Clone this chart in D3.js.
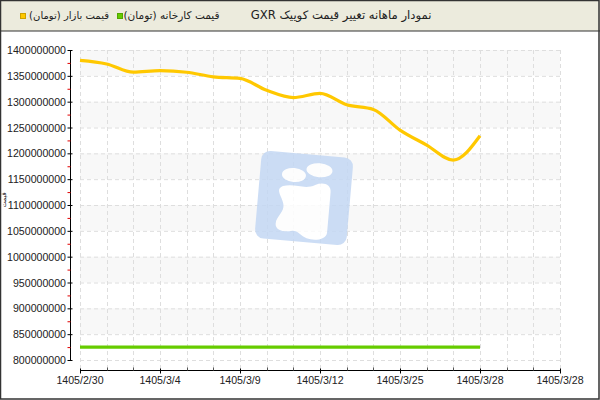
<!DOCTYPE html>
<html><head><meta charset="utf-8">
<script src="https://cdn.jsdelivr.net/npm/d3@7"></script>
<style>
html,body{margin:0;padding:0;background:#fff;}
svg{display:block;}
text{font-family:"Liberation Sans",Arial,sans-serif;}
.fa{font-family:"DejaVu Sans",sans-serif;}
</style></head><body>
<script>
const title = "نمودار ماهانه تغییر قیمت کوییک GXR";
const seriesNames = ["قیمت بازار (تومان)", "قیمت کارخانه (تومان)"];
const yAxisTitle = "قیمت";
const xTickLabels = ["1405/2/30","1405/3/4","1405/3/9","1405/3/12","1405/3/25","1405/3/28","1405/3/28"];
const marketPrice = [1380e6,1373e6,1357e6,1360e6,1357e6,1348e6,1345e6,1322e6,1308e6,1316e6,1294e6,1285e6,1245e6,1216e6,1187e6,1234e6];
const factoryPrice = [825e6,825e6,825e6,825e6,825e6,825e6,825e6,825e6,825e6,825e6,825e6,825e6,825e6,825e6,825e6,825e6];
const colors = ["#ffc800","#66cc00"];

const W=600,H=400;
const svg=d3.select("body").append("svg").attr("width",W).attr("height",H);
svg.append("rect").attr("x",0).attr("y",0).attr("width",W).attr("height",H).attr("fill","#fff");

// header
svg.append("rect").attr("x",0).attr("y",0).attr("width",W).attr("height",31).attr("fill","#ecebdd");
svg.append("line").attr("x1",0).attr("x2",W).attr("y1",31).attr("y2",31).attr("stroke","#333").attr("stroke-width",1);

const x=d3.scaleLinear().domain([0,18]).range([80,560]);
const y=d3.scaleLinear().domain([800e6,1400e6]).range([360,50]);

// bands
const majorY=d3.range(800e6,1400e6+1,50e6);
for(let v=1400e6; v>800e6; v-=100e6){
  svg.append("rect").attr("x",x(0)).attr("width",x(18)-x(0)).attr("y",y(v)).attr("height",y(v-50e6)-y(v)).attr("fill","#f8f8f8");
}
// grid
svg.append("g").selectAll("line").data(majorY).join("line")
 .attr("x1",x(0)).attr("x2",x(18)).attr("y1",d=>y(d)+0.5).attr("y2",d=>y(d)+0.5)
 .attr("stroke","#dedede").attr("stroke-dasharray","4,3");
svg.append("g").selectAll("line").data(d3.range(0,19)).join("line")
 .attr("x1",d=>Math.round(x(d))+0.5).attr("x2",d=>Math.round(x(d))+0.5).attr("y1",y(1400e6)).attr("y2",370)
 .attr("stroke","#dedede").attr("stroke-dasharray","4,3");

// watermark
const wm=svg.append("g").attr("transform","translate(304,198) rotate(5)").attr("opacity",0.85);
wm.append("rect").attr("x",-46).attr("y",-44).attr("width",92).attr("height",88).attr("rx",9).attr("fill","#c4d8f4");
wm.append("ellipse").attr("cx",-12).attr("cy",-22).attr("rx",12).attr("ry",7).attr("fill","#fff");
wm.append("ellipse").attr("cx",13).attr("cy",-29).attr("rx",13).attr("ry",7).attr("fill","#fff");
wm.append("path").attr("d","M-22,-10 C-10,-14 0,-8 10,-14 C18,-18 26,-16 26,-8 L26,32 C26,40 14,42 6,40 C0,38 -4,32 -10,34 C-18,36 -26,34 -26,28 C-26,20 -18,16 -20,8 C-22,0 -30,-6 -22,-10 Z").attr("fill","#fff");

// lines
const line=d3.line().x((d,i)=>x(i)).y(d=>y(d)).curve(d3.curveMonotoneX);
svg.append("path").datum(factoryPrice).attr("d",line).attr("fill","none").attr("stroke",colors[1]).attr("stroke-width",3.2);
svg.append("path").datum(marketPrice).attr("d",line).attr("fill","none").attr("stroke",colors[0]).attr("stroke-width",3.2).attr("stroke-linejoin","round");

// y axis
const ya=svg.append("g").attr("transform","translate(70.5,0)");
ya.append("line").attr("x1",0).attr("x2",0).attr("y1",y(1400e6)).attr("y2",y(800e6)).attr("stroke","#000");
ya.selectAll("line.mn").data(d3.range(825e6,1400e6,50e6)).join("line").attr("class","mn")
 .attr("x1",-3).attr("x2",0).attr("y1",d=>y(d)+0.5).attr("y2",d=>y(d)+0.5).attr("stroke","#e00000");
ya.selectAll("line.mj").data(majorY).join("line").attr("class","mj")
 .attr("x1",-3).attr("x2",2).attr("y1",d=>y(d)+0.5).attr("y2",d=>y(d)+0.5).attr("stroke","#000");
ya.selectAll("text").data(majorY).join("text")
 .attr("x",-4.5).attr("y",d=>y(d)+4).attr("text-anchor","end").attr("font-size","10.6px").attr("fill","#222")
 .text(d=>d3.format("d")(d));

// x axis
const xa=svg.append("g").attr("transform","translate(0,370.5)");
xa.append("line").attr("x1",x(0)).attr("x2",x(18)).attr("stroke","#000");
const majorIdx=[0,3,6,9,12,15,18];
xa.selectAll("line.mj").data(majorIdx).join("line").attr("class","mj")
 .attr("x1",d=>Math.round(x(d))+0.5).attr("x2",d=>Math.round(x(d))+0.5).attr("y1",-2).attr("y2",3).attr("stroke","#000");
xa.selectAll("line.mn").data(d3.range(0,19).filter(i=>i%3)).join("line").attr("class","mn")
 .attr("x1",d=>Math.round(x(d))+0.5).attr("x2",d=>Math.round(x(d))+0.5).attr("y1",-3).attr("y2",0).attr("stroke","#555");
xa.selectAll("text").data(majorIdx).join("text")
 .attr("x",d=>x(d)).attr("y",13).attr("text-anchor","middle").attr("font-size","10.6px").attr("fill","#222")
 .text((d,i)=>xTickLabels[i]);

// y title (small, at left edge)
svg.append("text").attr("class","fa").attr("transform","translate(6,200) rotate(-90)").attr("text-anchor","middle")
 .attr("font-size","6.5px").attr("fill","#222").attr("direction","rtl").text(yAxisTitle);

// header texts, fitted to the reference widths
function fitText(sel, target){
  const w=sel.node().getComputedTextLength();
  const fs=parseFloat(sel.attr("font-size"));
  sel.attr("font-size",(fs*target/w).toFixed(2)+"px");
}
const tt=svg.append("text").attr("class","fa").attr("x",431.5).attr("y",19).attr("direction","rtl").attr("text-anchor","start")
 .attr("font-size","11px").attr("fill","#222").text(title);
fitText(tt,181);
const lg=[{x:20,name:seriesNames[0],c:colors[0],tx:109,w:80},{x:117,name:seriesNames[1],c:colors[1],tx:219.5,w:96}];
lg.forEach(l=>{
  svg.append("rect").attr("x",l.x+0.5).attr("y",13.5).attr("width",5).attr("height",5).attr("fill",l.c).attr("stroke",d3.color(l.c).darker(0.6));
  const t=svg.append("text").attr("class","fa").attr("x",l.tx).attr("y",19).attr("direction","rtl").attr("text-anchor","start")
   .attr("font-size","11px").attr("fill","#222").text(l.name);
  fitText(t,l.w);
});

// outer border
svg.append("rect").attr("x",0.5).attr("y",0.5).attr("width",W-1.5).attr("height",H-1.5).attr("fill","none").attr("stroke","#333").attr("stroke-width",1.5);
</script>
</body></html>
